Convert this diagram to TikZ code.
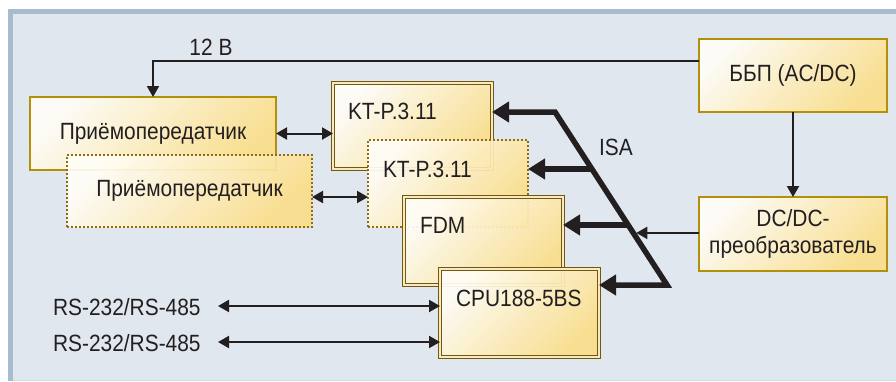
\documentclass[tikz,border=0pt]{standalone}
\usepackage{fontspec}
\setmainfont{Liberation Sans}[FakeStretch=0.89]
\usetikzlibrary{arrows.meta,calc}

\definecolor{panelbg}{HTML}{E1E7EF}
\definecolor{paneledge}{HTML}{A9BCCD}
\definecolor{panelfoot}{HTML}{D2DAE4}
\definecolor{boxlight}{HTML}{FFFDF6}
\definecolor{boxdark}{HTML}{FADE8A}
\definecolor{goldline}{HTML}{B3900A}
\definecolor{brownline}{HTML}{735610}
\definecolor{dotline}{HTML}{8C6C14}
\definecolor{gapline}{HTML}{F7EAC0}
\definecolor{ink}{HTML}{231F20}

\tikzset{
  box/.style={inner sep=0pt, outer sep=0pt, fill opacity=0.93,
    top color=boxlight, bottom color=boxdark, shading angle=45},
  plainbox/.style={box, draw=goldline, line width=1.7pt},
  dblbox/.style={box, draw=brownline, line width=1.2pt,
    double=gapline, double distance=1.2pt},
  dotbox/.style={box, draw=dotline, line width=2pt, dash pattern=on 2pt off 2pt},
  lbl/.style={inner sep=0pt, outer sep=0pt, text=ink,
    font=\fontsize{23.5}{27}\selectfont},
  thin/.style={draw=ink, line width=2pt},
  arr/.style={thin, -{Triangle[length=11pt,width=12pt]}},
  darr/.style={thin, {Triangle[length=11pt,width=12pt]}-{Triangle[length=11pt,width=12pt]}},
  bus/.style={draw=ink, line width=5.5pt},
  bustip/.style={bus, -{Triangle[length=17pt,width=20pt]}},
  busends/.style={bus, {Triangle[length=17pt,width=20pt]}-{Triangle[length=17pt,width=20pt]}},
}

\begin{document}
\begin{tikzpicture}[x=1pt, y=-1pt]
  % panel
  \fill[white] (0,0) rectangle (896,381);
  \fill[paneledge] (8,9) rectangle (896,381);
  \fill[panelfoot] (13,14) rectangle (896,381);
  \fill[panelbg] (13,14) rectangle (896,379.5);
  \useasboundingbox (0,0) rectangle (896,381);

  % transceivers
  \node[plainbox, minimum width=246pt, minimum height=73pt] (pr1) at (153,133.5) {};
  \node[lbl] (pr1t) at (pr1.center) {Приёмопередатчик};
  \node[dotbox, minimum width=245pt, minimum height=72pt] (pr2) at (189.5,191) {};
  \node[lbl] (pr2t) at (pr2.center) {Приёмопередатчик};

  % module stack
  \node[dblbox, minimum width=159pt, minimum height=86pt] (kt1) at (412.5,126) {};
  \node[lbl, anchor=base west] (kt1t) at (348,119) {KT-P.3.11};
  \node[dotbox, minimum width=160pt, minimum height=87pt] (kt2) at (448,183.5) {};
  \node[lbl, anchor=base west] (kt2t) at (383,177) {KT-P.3.11};
  \node[dblbox, minimum width=159pt, minimum height=88pt] (fdm) at (483.5,241) {};
  \node[lbl, anchor=base west] (fdmt) at (420,233) {FDM};
  \node[dblbox, minimum width=159pt, minimum height=88pt] (cpu) at (519.5,313) {};
  \node[lbl, anchor=base west] (cput) at (456,306) {CPU188-5BS};

  % power supply
  \node[plainbox, minimum width=188pt, minimum height=73pt] (bbp) at (793,75.5) {};
  \node[lbl] (bbpt) at (bbp.center) {ББП (AC/DC)};
  \node[plainbox, minimum width=188pt, minimum height=74pt] (dcdc) at (793,234) {};
  \node[lbl, align=center] (dcdct) at (dcdc.center) {DC/DC-\\преобразователь};

  % serial ports
  \node[lbl, anchor=base west] (rs1) at (53,315) {RS-232/RS-485};
  \node[lbl, anchor=base west] (rs2) at (53,351) {RS-232/RS-485};
  \coordinate (rs1e) at (218,306);
  \coordinate (rs2e) at (218,342);

  % labels
  \node[lbl, anchor=base] (v12) at (211,55) {12 В};
  \node[lbl, anchor=base west] (isa) at (599,155) {ISA};

  % 12 V supply line
  \draw[arr] ([yshift=14.5pt]bbp.west) -| (pr1.north);
  \draw[arr] (bbp.south) -- (dcdc.north);

  % transceiver links
  \draw[darr] (pr1.east) -- (pr1.east -| kt1.west);
  \draw[darr] ([yshift=-6pt]pr2.east) -- ([yshift=-6pt]pr2.east -| kt2.west);

  % serial links
  \draw[darr] (rs1e) -- (rs1e -| cpu.west);
  \draw[darr] (rs2e) -- (rs2e -| cpu.west);

  % ISA bus
  \coordinate (b1) at (555,112);
  \coordinate (b2) at (667,285);
  \coordinate (j2) at ($(b1)!0.3295!(b2)$);
  \coordinate (j3) at ($(b1)!0.653!(b2)$);
  \coordinate (j4) at ($(b1)!0.699!(b2)$);
  \draw[busends] (b1 -| kt1.east) -- (b1) -- (b2) -- (b2 -| cpu.east);
  \draw[bustip] (j2) -- (j2 -| kt2.east);
  \draw[bustip] (j3) -- (j3 -| fdm.east);
  \draw[arr, shorten >=3pt] (j4 -| dcdc.west) -- (j4);
\end{tikzpicture}
\end{document}
